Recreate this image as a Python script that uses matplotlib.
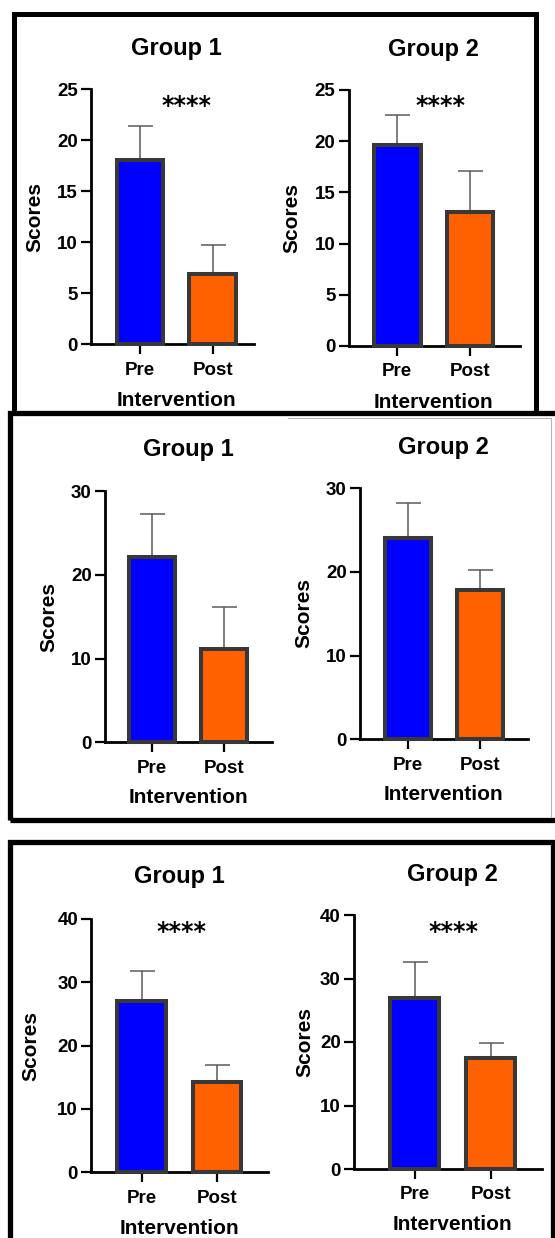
import numpy as np
import matplotlib
matplotlib.use('Agg')
import matplotlib.pyplot as plt
from matplotlib.patches import Rectangle
from matplotlib.lines import Line2D

plt.rcParams['font.family'] = ['Liberation Sans', 'DejaVu Sans']
plt.rcParams['font.weight'] = 'bold'

# ---- data ----
conditions = ['Pre', 'Post']
group_names = ['Group 1', 'Group 2']
bar_colors = ['#0000FF', '#FF6000']

# panel 1 (top)
p1_means = [[18.1, 6.9], [19.6, 13.1]]
p1_err = [[3.3, 2.8], [3.0, 4.0]]
# panel 2 (middle)
p2_means = [[22.1, 11.1], [24.1, 17.8]]
p2_err = [[5.2, 5.0], [4.2, 2.4]]
# panel 3 (bottom)
p3_means = [[27.1, 14.3], [27.0, 17.5]]
p3_err = [[4.7, 2.7], [5.6, 2.3]]

p1_yticks = [0, 5, 10, 15, 20, 25]
p2_yticks = [0, 10, 20, 30]
p3_yticks = [0, 10, 20, 30, 40]

sig_label = '****'

W, H = 555, 1238
fig = plt.figure(figsize=(W / 100, H / 100), dpi=100)


def fx(px):
    return px / W


def fy(py):
    return 1 - py / H


def draw_group(box, xlim, means, errs, yticks, title, title_y, xlab_y, ylab_xy, star=None):
    left, right, top, bottom = box
    ax = fig.add_axes([fx(left), fy(bottom), (right - left) / W, (bottom - top) / H])
    x = np.arange(len(conditions))
    ax.errorbar(x, means, yerr=[np.zeros(len(errs)), errs], fmt='none',
                ecolor='#5a5a5a', elinewidth=1.1, capsize=9, capthick=1.1,
                zorder=2, clip_on=False)
    ax.bar(x, means, width=0.64, color=bar_colors, edgecolor='#383838',
           linewidth=2.9, zorder=3, clip_on=False)
    ax.set_xlim(*xlim)
    ax.set_ylim(yticks[0], yticks[-1])
    ax.set_yticks(yticks)
    ax.set_xticks(x)
    ax.set_xticklabels(conditions)
    for side in ['top', 'right']:
        ax.spines[side].set_visible(False)
    for side in ['left', 'bottom']:
        ax.spines[side].set_linewidth(2.0)
        ax.spines[side].set_color('black')
    ax.tick_params(axis='both', width=1.6, length=7, labelsize=13.5, colors='black')
    ax.tick_params(axis='y', pad=2.5)
    ax.tick_params(axis='x', pad=5.5)
    for lab in ax.get_xticklabels() + ax.get_yticklabels():
        lab.set_fontweight('bold')
    ax.set_facecolor('none')

    # titles / axis labels placed by pixel
    xc = ax.transData.transform((0.5, 0))[0] / W
    fig.text(xc, fy(title_y), title, ha='center', va='center',
             fontsize=17, fontweight='bold')
    fig.text(xc, fy(xlab_y), 'Intervention', ha='center', va='center',
             fontsize=15, fontweight='bold')
    fig.text(fx(ylab_xy[0]), fy(ylab_xy[1]), 'Scores', ha='center', va='center',
             rotation=90, fontsize=15, fontweight='bold')
    if star is not None:
        sx = ax.transData.transform((star[0], 0))[0] / W
        fig.text(sx, fy(star[1]), sig_label, ha='center', va='center',
                 fontsize=17, family='DejaVu Sans', fontweight='bold')
    return ax


# panel frames
fig.add_artist(Rectangle((fx(13.5), fy(413)), (535.5 - 13.5) / W, (413 - 13.5) / H,
                         transform=fig.transFigure, fill=False, lw=3.6, ec='black'))
fig.add_artist(Rectangle((fx(10), fy(820)), (560 - 10) / W, (820 - 412.5) / H,
                         transform=fig.transFigure, fill=False, lw=3.8, ec='black'))
fig.add_artist(Line2D([fx(288), fx(551)], [fy(418), fy(418)], transform=fig.transFigure,
                      lw=0.8, color='#b5b5b5'))
fig.add_artist(Line2D([fx(551), fx(551)], [fy(418), fy(817)], transform=fig.transFigure,
                      lw=0.8, color='#b5b5b5'))
fig.add_artist(Rectangle((fx(10), fy(1250)), (553 - 10) / W, (1250 - 842) / H,
                         transform=fig.transFigure, fill=False, lw=3.8, ec='black'))

# panel 1
draw_group((91.3, 254, 89.3, 344.3), (-0.667, 1.567), p1_means[0], p1_err[0], p1_yticks,
           group_names[0], 48, 400, (35.4, 216.7), star=(0.64, 106))
draw_group((348.7, 519.6, 90, 346), (-0.666, 1.68), p1_means[1], p1_err[1], p1_yticks,
           group_names[1], 49.3, 402, (292, 218), star=(0.59, 106))
# panel 2
draw_group((105, 271.9, 491, 742.3), (-0.66, 1.67), p2_means[0], p2_err[0], p2_yticks,
           group_names[0], 450, 797.7, (48.5, 616.7))
draw_group((360, 528, 488.3, 739.3), (-0.666, 1.67), p2_means[1], p2_err[1], p2_yticks,
           group_names[1], 447.7, 794, (303.7, 613))
# panel 3
draw_group((91.3, 268.3, 919, 1172.3), (-0.667, 1.68), p3_means[0], p3_err[0], p3_yticks,
           group_names[0], 876.7, 1228, (31, 1045.7), star=(0.528, 931.7))
draw_group((354, 541.6, 915, 1169), (-0.8, 1.67), p3_means[1], p3_err[1], p3_yticks,
           group_names[1], 875, 1225, (305, 1041.7), star=(0.514, 931.7))

fig.savefig('out.png', dpi=100)
